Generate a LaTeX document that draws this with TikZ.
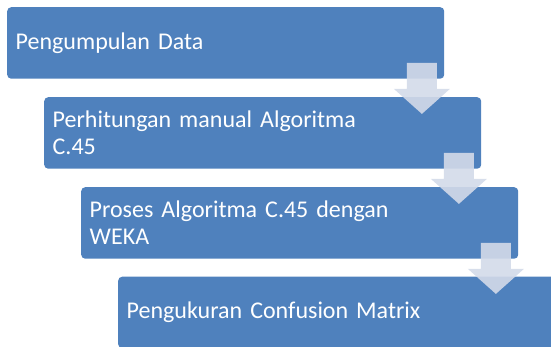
\documentclass[tikz,border=0pt]{standalone}
\usepackage{fontspec}
\setmainfont[WordSpace=0.85]{Carlito}
\usetikzlibrary{calc}
\definecolor{boxblue}{HTML}{4F81BD}
\definecolor{arrowfill}{HTML}{D3DAE9}
\begin{document}
\begin{tikzpicture}[x=1pt,y=-1pt,
  stage/.style={fill=boxblue, rounded corners=4pt, text=white,
    font=\fontsize{24}{27}\selectfont, align=left, anchor=north west,
    minimum width=437pt, minimum height=71.5pt, text width=420pt,
    inner xsep=8.5pt, inner ysep=0pt},
  flowarrow/.style={fill=arrowfill, fill opacity=0.9}]
\useasboundingbox (0,0) rectangle (551,347);
\node[stage] (b1) at (7,7) {Pengumpulan Data};
\node[stage] (b2) at (44,97) {Perhitungan manual Algoritma\\C.45};
\node[stage] (b3) at (81,187) {Proses Algoritma C.45 dengan\\WEKA};
\node[stage] (b4) at (118,276.5) {Pengukuran Confusion Matrix};
\coordinate (a1) at ($(b1.south east)+(-22.5,-16)$);
\coordinate (a2) at ($(b2.south east)+(-22.5,-16)$);
\coordinate (a3) at ($(b3.south east)+(-22.5,-16)$);
\foreach \a in {a1,a2,a3}{
  \fill[flowarrow] (\a) ++(-15,0) -- ++(30,0) -- ++(0,26) -- ++(13,0)
    -- ++(-28,25) -- ++(-28,-25) -- ++(13,0) -- cycle;
}
\end{tikzpicture}
\end{document}
